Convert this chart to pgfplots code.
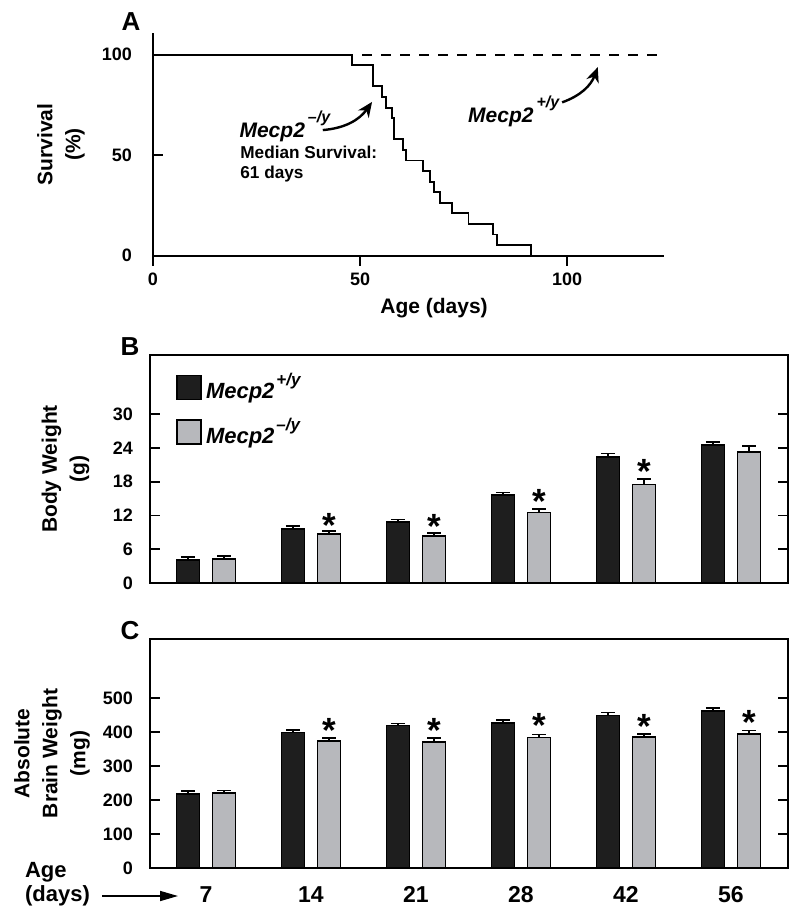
\documentclass[border=0pt]{standalone}
\usepackage{fontspec}
\setmainfont{Liberation Sans}
\usepackage{pgfplots}
\pgfplotsset{compat=1.18}
\usetikzlibrary{arrows.meta}
\definecolor{barblack}{RGB}{30,30,30}
\definecolor{bargray}{RGB}{183,184,188}
\newcommand{\supA}[1]{\kern1.5pt\raisebox{7.5pt}{\fontsize{8}{8}\selectfont #1}}
\newcommand{\supL}[1]{\kern1pt\raisebox{6.5pt}{\fontsize{8.5}{8.5}\selectfont #1}}

\pgfplotstableread{
x y e
-0.172 4.1 0.5
0.828 9.6 0.5
1.828 10.8 0.45
2.828 15.6 0.45
3.828 22.4 0.6
4.828 24.5 0.5
}\bodyWT
\pgfplotstableread{
x y e
0.172 4.3 0.45
1.172 8.7 0.5
2.172 8.4 0.5
3.172 12.5 0.6
4.172 17.5 1.0
5.172 23.3 1.0
}\bodyKO
\pgfplotstableread{
x y e
-0.172 219 8
0.828 399 8
1.828 420 6
2.828 428 9
3.828 449 9
4.828 462 9
}\brainWT
\pgfplotstableread{
x y e
0.172 221 7
1.172 374 9
2.172 372 12
3.172 385 8
4.172 387 8
5.172 395 10
}\brainKO

\pgfplotsset{
  panel/.style={
    scale only axis,
    /pgf/number format/assume math mode=true,
    tick label style={font=\fontsize{9}{10}\selectfont\bfseries},
    label style={font=\fontsize{10.5}{14}\selectfont\bfseries, align=center},
    major tick length=5pt,
    tick style={line width=0.9pt, black},
    axis line style={line width=1pt},
    clip=false,
  },
  wtbar/.style={ybar, bar width=0.219, bar shift=0pt, fill=barblack, draw=black, line width=0.8pt,
    legend image code/.code={\draw[fill=barblack, draw=black, line width=0.8pt] (0pt,-6pt) rectangle (12pt,6pt);},
    error bars/.cd, y dir=plus, y explicit,
    error bar style={line width=0.8pt, black},
    error mark options={rotate=90, mark size=3.5pt, line width=0.8pt, black}},
  kobar/.style={ybar, bar width=0.219, bar shift=0pt, fill=bargray, draw=black, line width=0.8pt,
    legend image code/.code={\draw[fill=bargray, draw=black, line width=0.8pt] (0pt,-6pt) rectangle (12pt,6pt);},
    error bars/.cd, y dir=plus, y explicit,
    error bar style={line width=0.8pt, black},
    error mark options={rotate=90, mark size=3.5pt, line width=0.8pt, black}},
  stars/.style={draw=none, mark=none, nodes near coords={*},
    every node near coord/.append style={anchor=base, yshift=-9.3pt, inner sep=0pt,
      font=\fontsize{17.5}{17}\selectfont\bfseries}},
}

\begin{document}
\begin{tikzpicture}
\path[use as bounding box] (0,0) rectangle (400pt,-457pt);

\node[font=\fontsize{13}{13}\selectfont\bfseries] at (65.5pt,-11pt) {A};
\node[font=\fontsize{13}{13}\selectfont\bfseries] at (65pt,-173.5pt) {B};
\node[font=\fontsize{13}{13}\selectfont\bfseries] at (65pt,-315.5pt) {C};

% ---------------- Panel A ----------------
\begin{axis}[panel,
  width=255.5pt, height=111.35pt,
  at={(76.5pt,-127.85pt)}, anchor=south west,
  xmin=0, xmax=123.4, ymin=0, ymax=110.8,
  axis lines=left, axis line style={-},
  xtick={0,50,100}, ytick={0,50,100},
  xtick align=outside, ytick align=inside,
  yticklabel style={xshift=-7pt},
  xlabel={Age (days)}, ylabel={Survival\\(\%)},
  xlabel style={at={(axis description cs:0.55,0)}, anchor=center, yshift=-26pt},
  ylabel style={at={(axis description cs:-0.18,0.5)}, anchor=center},
]
\addplot[black, line width=0.9pt, dash pattern=on 5pt off 4.5pt] coordinates {(0,100) (122.7,100)};
\addplot[const plot, black, line width=0.95pt] coordinates {
(0,100) (48.1,94.74) (53.1,84.21) (55.2,78.95) (56.2,73.68) (57.7,68.42)
(58.3,57.89) (60.3,52.63) (61.0,47.37) (65.1,42.11) (66.9,36.84) (67.9,31.58)
(69.2,26.32) (72.1,21.05) (76.2,15.79) (82.1,10.53) (83.1,5.26) (91.2,0)};
\node[anchor=base west, font=\fontsize{10.5}{12}\selectfont\bfseries\itshape] at (axis cs:19.2,58.6) {Mecp2\supA{–/y}};
\node[anchor=base west, font=\fontsize{8.6}{10}\selectfont\bfseries] at (axis cs:19.4,48.6) {Median Survival:};
\node[anchor=base west, font=\fontsize{8.6}{10}\selectfont\bfseries] at (axis cs:19.4,38.6) {61 days};
\node[anchor=base west, font=\fontsize{10.5}{12}\selectfont\bfseries\itshape] at (axis cs:74.4,66.3) {Mecp2\supA{+/y}};
\draw[line width=1.2pt, -{Stealth[length=7.5pt,width=6.5pt]}] (axis cs:41,62.5) to[bend right=25] (axis cs:52.9,76.5);
\draw[line width=1.2pt, -{Stealth[length=7.5pt,width=6.5pt]}] (axis cs:98.8,76.3) to[bend right=25] (axis cs:107.4,93.8);
\end{axis}

% ---------------- Panel B ----------------
\begin{axis}[panel,
  width=319pt, height=114pt,
  at={(75pt,-291.5pt)}, anchor=south west,
  xmin=-0.533, xmax=5.543, ymin=0, ymax=40.5,
  xtick=\empty, ytick={0,6,...,30}, ytick align=inside,
  yticklabel style={xshift=-5pt},
  ylabel={Body Weight\\(g)},
  ylabel style={at={(axis description cs:-0.1324,0.5)}, anchor=center},
  legend style={at={(axis description cs:0,1)}, anchor=north west, xshift=13pt, yshift=-7pt,
    draw=none, fill=none, inner sep=0pt, row sep=4pt,
    font=\fontsize{11}{12}\selectfont\bfseries\itshape},
  legend cell align=left,
]
\addplot[wtbar] table[x=x, y=y, y error=e] {\bodyWT};
\addlegendentry{Mecp2\supL{+/y}}
\addplot[kobar] table[x=x, y=y, y error=e] {\bodyKO};
\addlegendentry{Mecp2\supL{–/y}}
\addplot[stars, forget plot] coordinates {(1.172,11.4) (2.172,11.2) (3.172,15.6) (4.172,20.9)};
\end{axis}

% ---------------- Panel C ----------------
\begin{axis}[panel,
  width=319pt, height=114.5pt,
  at={(75pt,-434pt)}, anchor=south west,
  xmin=-0.533, xmax=5.543, ymin=0, ymax=675,
  xtick={0,1,2,3,4,5}, xticklabels={7,14,21,28,42,56},
  x tick style={draw=none},
  xticklabel style={yshift=-5.6pt, font=\fontsize{11.5}{12}\selectfont\bfseries},
  ytick={0,100,...,500}, ytick align=inside,
  yticklabel style={xshift=-5pt},
  ylabel={Absolute\\Brain Weight\\(mg)},
  ylabel style={at={(axis description cs:-0.1536,0.5)}, anchor=center},
]
\addplot[wtbar] table[x=x, y=y, y error=e] {\brainWT};
\addplot[kobar] table[x=x, y=y, y error=e] {\brainKO};
\addplot[stars] coordinates {(1.172,424) (2.172,424) (3.172,439) (4.172,436) (5.172,448)};
\end{axis}

\node[anchor=base west, font=\fontsize{11}{12}\selectfont\bfseries] at (9pt,-438.5pt) {Age};
\node[anchor=base west, font=\fontsize{11}{12}\selectfont\bfseries] at (9pt,-450.5pt) {(days)};
\draw[line width=0.8pt, -{Triangle[length=9pt,width=5pt]}] (51pt,-448pt) -- (89pt,-448pt);
\end{tikzpicture}
\end{document}
